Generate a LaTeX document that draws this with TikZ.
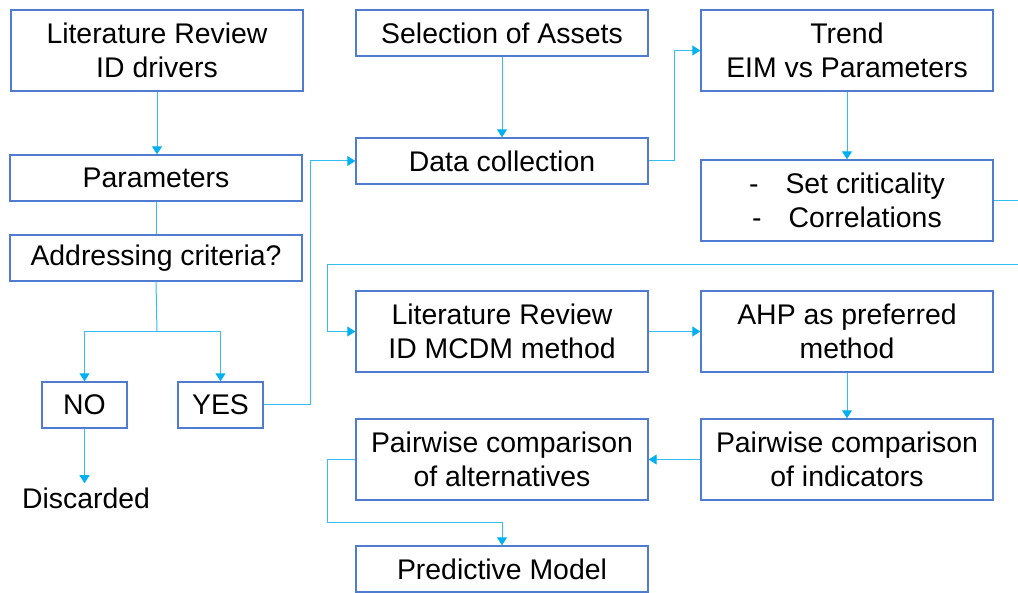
\documentclass[tikz,border=0pt]{standalone}
\usepackage{fontspec}
\setmainfont{Liberation Sans}
\usetikzlibrary{arrows.meta,calc}
\definecolor{boxc}{HTML}{4F7BD0}
\definecolor{linec}{HTML}{33BDF2}
\definecolor{tipc}{HTML}{00B0F0}
\tikzset{
  box/.style={draw=boxc, line width=0.7pt, fill=white, inner sep=0pt, align=center,
    minimum width=146pt, font=\fontsize{14.2}{17}\selectfont},
  tall/.style={minimum height=40.5pt},
  short/.style={minimum height=23pt},
  small/.style={box, minimum width=42.5pt, minimum height=23pt},
  wire/.style={draw=linec, line width=0.5pt},
  conn/.style={wire, -{Triangle[width=5pt,length=4pt,color=tipc]}},
}
\begin{document}
\begin{tikzpicture}[x=0.5pt,y=-0.5pt]
\useasboundingbox (0,0) rectangle (1018,593);
% nodes
\node[box,tall]  (lr1)   at (157,50.5)  {Literature Review\\ID drivers};
\node[box,short] (par)   at (156,178)   {Parameters};
\node[box,short] (adr)   at (156,258)   {Addressing criteria?};
\node[small]     (no)    at (84.5,405)  {NO};
\node[small]     (yes)   at (220.5,405) {YES};
\node[inner sep=2pt, font=\fontsize{14.2}{17}\selectfont] (disc) at (86,498) {Discarded};
\node[box,short] (sel)   at (502,33)    {Selection of Assets};
\node[box,short] (dc)    at (502,161)   {Data collection};
\node[box,tall]  (trend) at (847,50.5)  {Trend\\EIM vs Parameters};
\node[box,tall]  (crit)  at (847,200.5) {-\hspace{0.95em}Set criticality\\-\hspace{0.95em}Correlations};
\node[box,tall]  (lr2)   at (502,331.5) {Literature Review\\ID MCDM method};
\node[box,tall]  (ahp)   at (847,331.5) {AHP as preferred\\method};
\node[box,tall]  (pwa)   at (502,459.5) {Pairwise comparison\\of alternatives};
\node[box,tall]  (pwi)   at (847,459.5) {Pairwise comparison\\of indicators};
\node[box,short] (pred)  at (502,569)   {Predictive Model};
\coordinate (split) at (157,332);
\coordinate (outA) at (1018,200.5);
\coordinate (inB) at (1018,265);
% connectors
\draw[conn] (lr1.south) -- (lr1.south |- par.north);
\draw[wire] (par.south) -- (par.south |- adr.north);
\draw[wire] (adr.south) -- (split);
\draw[conn] (split) -| (no.north);
\draw[conn] (split) -| (yes.north);
\draw[conn] (no.south) -- (no.south |- disc.north);
\draw[conn] (yes.east) -- ++(47,0) |- (dc.west);
\draw[conn] (sel.south) -- (dc.north);
\draw[conn] (dc.east) -- ++(26,0) |- (trend.west);
\draw[conn] (trend.south) -- (crit.north);
\draw[wire] (crit.east) -- (outA);
\draw[conn] (inB) -| ([xshift=-14pt]lr2.west) -- (lr2.west);
\draw[conn] (lr2.east) -- (ahp.west);
\draw[conn] (ahp.south) -- (pwi.north);
\draw[conn] (pwi.west) -- (pwa.east);
\draw[conn] (pwa.west) -- ++(-28,0) |- ([yshift=11.5pt]pred.north) -- (pred.north);
\end{tikzpicture}
\end{document}
